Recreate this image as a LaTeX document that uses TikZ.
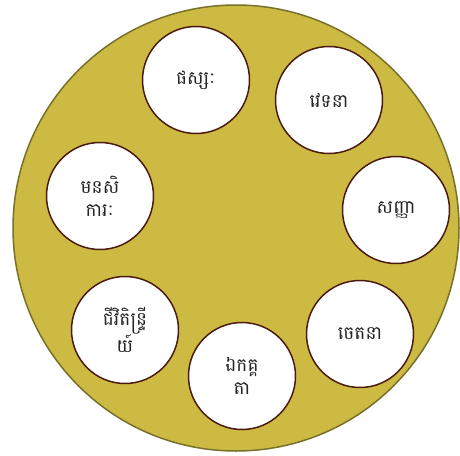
\documentclass[tikz,border=0pt]{standalone}
\usepackage{fontspec}
\newfontfamily\khmer[Script=Khmer]{Battambang}
\definecolor{bigfill}{HTML}{CDBA42}
\definecolor{bigdraw}{HTML}{77702A}
\definecolor{smalldraw}{HTML}{4A1A0E}
\begin{document}
\begin{tikzpicture}[x=1pt,y=-1pt,
  item/.style={circle,draw=smalldraw,line width=1.5pt,fill=white,minimum size=107pt,inner sep=0pt,align=center,font=\khmer\fontsize{18.5}{23}\selectfont,text=black!85}]
\useasboundingbox (0,0) rectangle (460,455);
\node[circle,draw=bigdraw,fill=bigfill,line width=1.5pt,minimum size=446pt,inner sep=0pt] (big) at (236,228) {};
\node[item] (a) at (196,80) {ផស្សៈ};
\node[item] (b) at (329,100) {វេទនា};
\node[item] (c) at (396,210) {សញ្ញា};
\node[item] (d) at (360,334) {ចេតនា};
\node[item] (e) at (242,376) {ឯកគ្គ\\តា};
\node[item] (f) at (125,330) {ជីវិតិន្ទ្រី\\យ៍};
\node[item] (g) at (100,196) {មនសិ\\ការៈ};
\end{tikzpicture}
\end{document}
